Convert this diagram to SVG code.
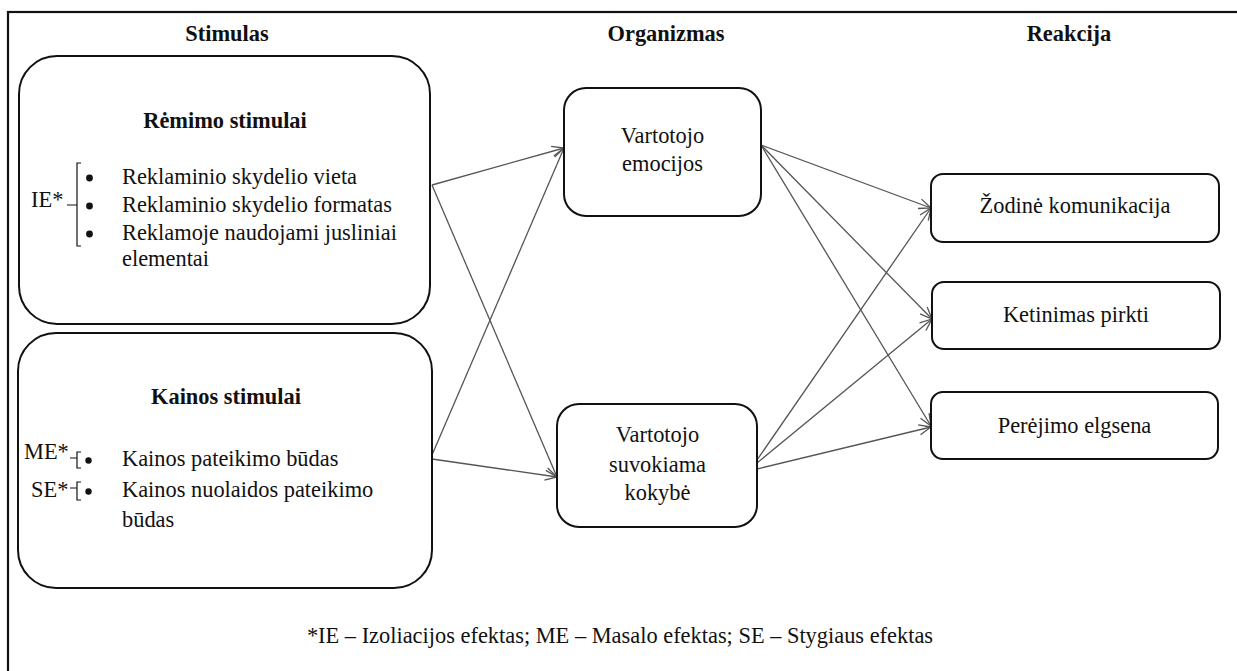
<svg xmlns="http://www.w3.org/2000/svg" width="1237" height="671" viewBox="0 0 1237 671">
  <style>
    text { font-size: 22.4px; fill: #111; }
    .hdr { font-weight: bold; text-anchor: middle; }
    .ttl { font-weight: bold; text-anchor: middle; }
    .mid { text-anchor: middle; }
    .box { fill: #fff; stroke: #111; stroke-width: 2; }
    .edge { fill: none; stroke: #555; stroke-width: 1.3; marker-end: url(#arrow); }
    .brk { fill: none; stroke: #111; stroke-width: 1.2; }
    .dot { fill: #111; }
  </style>
  <defs>
    <marker id="arrow" markerUnits="userSpaceOnUse" markerWidth="14" markerHeight="12" refX="12" refY="5" orient="auto" overflow="visible">
      <path d="M0,0 L12,5 L0,10" fill="none" stroke="#555" stroke-width="1.3"/>
    </marker>
  </defs>

  <rect width="1237" height="671" fill="#fff"/>
  <!-- outer frame (top and left edges run inside the canvas) -->
  <rect x="8" y="12" width="1250" height="680" fill="none" stroke="#111" stroke-width="2.2"/>

  <g font-family="Liberation Serif, Tinos, Times New Roman, DejaVu Serif, serif">
  <!-- column headers -->
  <text class="hdr" x="227" y="41">Stimulas</text>
  <text class="hdr" x="666" y="41">Organizmas</text>
  <text class="hdr" x="1069" y="41">Reakcija</text>

  <!-- connectors -->
  <g id="connectors">
    <line class="edge" x1="432" y1="185" x2="564" y2="148"/>
    <line class="edge" x1="432" y1="185" x2="557" y2="477"/>
    <line class="edge" x1="432" y1="455" x2="564" y2="148"/>
    <line class="edge" x1="432" y1="459" x2="557" y2="477"/>
    <line class="edge" x1="761" y1="145" x2="931" y2="208"/>
    <line class="edge" x1="761" y1="145" x2="932" y2="319"/>
    <line class="edge" x1="761" y1="145" x2="931" y2="426"/>
    <line class="edge" x1="757" y1="460" x2="931" y2="208"/>
    <line class="edge" x1="757" y1="463" x2="932" y2="319"/>
    <line class="edge" x1="757" y1="469" x2="931" y2="427"/>
  </g>

  <!-- promotion stimuli -->
  <g id="node-remimo">
    <rect class="box" x="19" y="56" width="411" height="268" rx="38" ry="38"/>
    <text class="ttl" x="225" y="128">Rėmimo stimulai</text>
    <text x="31" y="207">IE*</text>
    <path class="brk" d="M81,163 H77 V246 H81 M67,205 H77"/>
    <circle class="dot" cx="89.5" cy="178" r="3.4"/>
    <circle class="dot" cx="89.5" cy="206" r="3.4"/>
    <circle class="dot" cx="89.5" cy="234" r="3.4"/>
    <text x="122" y="184">Reklaminio skydelio vieta</text>
    <text x="122" y="211.5">Reklaminio skydelio formatas</text>
    <text x="122" y="239.5">Reklamoje naudojami jusliniai</text>
    <text x="122" y="265.5">elementai</text>
  </g>

  <!-- price stimuli -->
  <g id="node-kainos">
    <rect class="box" x="18" y="333" width="414" height="255" rx="38" ry="38"/>
    <text class="ttl" x="226" y="404">Kainos stimulai</text>
    <text x="24" y="459">ME*</text>
    <path class="brk" d="M81,452 H77 V468 H81 M70,458 H77"/>
    <circle class="dot" cx="88.5" cy="460.5" r="3.2"/>
    <text x="122" y="466">Kainos pateikimo būdas</text>
    <text x="31" y="497">SE*</text>
    <path class="brk" d="M81,482 H77 V500 H81 M70,488 H77"/>
    <circle class="dot" cx="88.5" cy="491.5" r="3.2"/>
    <text x="122" y="497">Kainos nuolaidos pateikimo</text>
    <text x="122" y="527">būdas</text>
  </g>

  <!-- organism -->
  <g id="node-emocijos">
    <rect class="box" x="564" y="88" width="197" height="128" rx="22" ry="22"/>
    <text class="mid" x="662.5" y="143">Vartotojo</text>
    <text class="mid" x="662.5" y="171">emocijos</text>
  </g>
  <g id="node-kokybe">
    <rect class="box" x="557" y="404" width="200" height="123" rx="22" ry="22"/>
    <text class="mid" x="657.5" y="442">Vartotojo</text>
    <text class="mid" x="657.5" y="471.5">suvokiama</text>
    <text class="mid" x="657.5" y="500">kokybė</text>
  </g>

  <!-- reactions -->
  <g id="node-zodine">
    <rect class="box" x="931" y="174" width="288" height="68" rx="12" ry="12"/>
    <text class="mid" x="1075" y="213">Žodinė komunikacija</text>
  </g>
  <g id="node-ketinimas">
    <rect class="box" x="932" y="282" width="288" height="67" rx="12" ry="12"/>
    <text class="mid" x="1076" y="322">Ketinimas pirkti</text>
  </g>
  <g id="node-perejimo">
    <rect class="box" x="931" y="392" width="287" height="67" rx="12" ry="12"/>
    <text class="mid" x="1074.5" y="432.5">Perėjimo elgsena</text>
  </g>

  <!-- footnote -->
  <text class="mid" x="620" y="643">*IE – Izoliacijos efektas; ME – Masalo efektas; SE – Stygiaus efektas</text>
  </g>
</svg>
